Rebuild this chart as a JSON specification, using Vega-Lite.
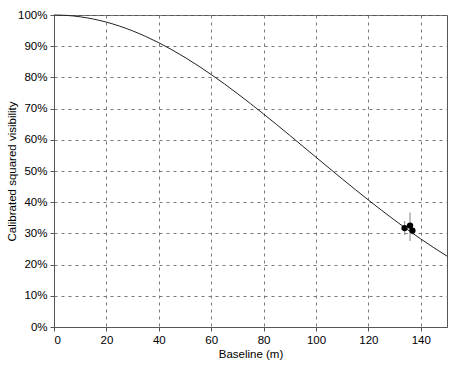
{
  "$schema": "https://vega.github.io/schema/vega-lite/v6.json",
  "autosize": "none",
  "width": 393,
  "height": 312,
  "padding": {"left": 54, "top": 15, "right": 17, "bottom": 44},
  "background": "white",
  "config": {
    "font": "Liberation Sans",
    "view": {"stroke": "#555555", "strokeWidth": 1},
    "axis": {
      "labelFont": "Liberation Sans",
      "titleFont": "Liberation Sans",
      "labelFontSize": 11.5,
      "titleFontSize": 11.5,
      "labelColor": "#000000",
      "titleColor": "#000000",
      "titleFontWeight": "normal",
      "domainColor": "#555555",
      "tickColor": "#555555",
      "tickSize": 4,
      "labelOverlap": false,
      "gridColor": "#777777",
      "gridDash": [3, 4],
      "gridWidth": 1,
      "gridOpacity": 1
    }
  },
  "datasets": {
    "curve": [
      {"baseline": 0, "v2": 1.0},
      {"baseline": 5, "v2": 0.99856},
      {"baseline": 10, "v2": 0.99424},
      {"baseline": 15, "v2": 0.98707},
      {"baseline": 20, "v2": 0.97712},
      {"baseline": 25, "v2": 0.96444},
      {"baseline": 30, "v2": 0.94913},
      {"baseline": 35, "v2": 0.9313},
      {"baseline": 40, "v2": 0.91107},
      {"baseline": 45, "v2": 0.88858},
      {"baseline": 50, "v2": 0.864},
      {"baseline": 55, "v2": 0.83749},
      {"baseline": 60, "v2": 0.80923},
      {"baseline": 65, "v2": 0.77942},
      {"baseline": 70, "v2": 0.74824},
      {"baseline": 75, "v2": 0.71591},
      {"baseline": 80, "v2": 0.68263},
      {"baseline": 85, "v2": 0.6486},
      {"baseline": 90, "v2": 0.61406},
      {"baseline": 95, "v2": 0.57919},
      {"baseline": 100, "v2": 0.5442},
      {"baseline": 105, "v2": 0.5093},
      {"baseline": 110, "v2": 0.47468},
      {"baseline": 115, "v2": 0.44051},
      {"baseline": 120, "v2": 0.40697},
      {"baseline": 125, "v2": 0.37423},
      {"baseline": 130, "v2": 0.34243},
      {"baseline": 135, "v2": 0.31172},
      {"baseline": 140, "v2": 0.2822},
      {"baseline": 145, "v2": 0.254},
      {"baseline": 150, "v2": 0.2272}
    ],
    "obs": [
      {"baseline": 133.8, "v2": 0.317, "lo": 0.295, "hi": 0.34},
      {"baseline": 135.9, "v2": 0.325, "lo": 0.276, "hi": 0.367},
      {"baseline": 136.8, "v2": 0.309, "lo": 0.297, "hi": 0.321}
    ]
  },
  "layer": [
    {
      "data": {"name": "curve"},
      "mark": {"type": "line", "color": "#222222", "strokeWidth": 1, "interpolate": "monotone"},
      "encoding": {
        "x": {
          "field": "baseline", "type": "quantitative",
          "scale": {"domain": [0, 150], "nice": false},
          "axis": {"title": "Baseline (m)", "values": [0, 20, 40, 60, 80, 100, 120, 140], "labelPadding": 3, "titlePadding": 3, "grid": true}
        },
        "y": {
          "field": "v2", "type": "quantitative",
          "scale": {"domain": [0, 1], "nice": false},
          "axis": {"title": "Calibrated squared visibility", "format": ".0%", "values": [0, 0.1, 0.2, 0.3, 0.4, 0.5, 0.6, 0.7, 0.8, 0.9, 1.0], "labelPadding": 3, "titlePadding": 0, "grid": true}
        }
      }
    },
    {
      "data": {"name": "obs"},
      "mark": {"type": "rule", "color": "#999999", "strokeWidth": 1.2},
      "encoding": {
        "x": {"field": "baseline", "type": "quantitative",
          "axis": {"title": "Baseline (m)", "values": [0, 20, 40, 60, 80, 100, 120, 140], "labelPadding": 3, "titlePadding": 3, "grid": true}},
        "y": {"field": "lo", "type": "quantitative",
          "axis": {"title": "Calibrated squared visibility", "format": ".0%", "values": [0, 0.1, 0.2, 0.3, 0.4, 0.5, 0.6, 0.7, 0.8, 0.9, 1.0], "labelPadding": 3, "titlePadding": 0, "grid": true}},
        "y2": {"field": "hi"}
      }
    },
    {
      "data": {"name": "obs"},
      "mark": {"type": "point", "filled": true, "color": "#000000", "size": 40, "opacity": 1},
      "encoding": {
        "x": {"field": "baseline", "type": "quantitative",
          "axis": {"title": "Baseline (m)", "values": [0, 20, 40, 60, 80, 100, 120, 140], "labelPadding": 3, "titlePadding": 3, "grid": true}},
        "y": {"field": "v2", "type": "quantitative",
          "axis": {"title": "Calibrated squared visibility", "format": ".0%", "values": [0, 0.1, 0.2, 0.3, 0.4, 0.5, 0.6, 0.7, 0.8, 0.9, 1.0], "labelPadding": 3, "titlePadding": 0, "grid": true}}
      }
    }
  ]
}
